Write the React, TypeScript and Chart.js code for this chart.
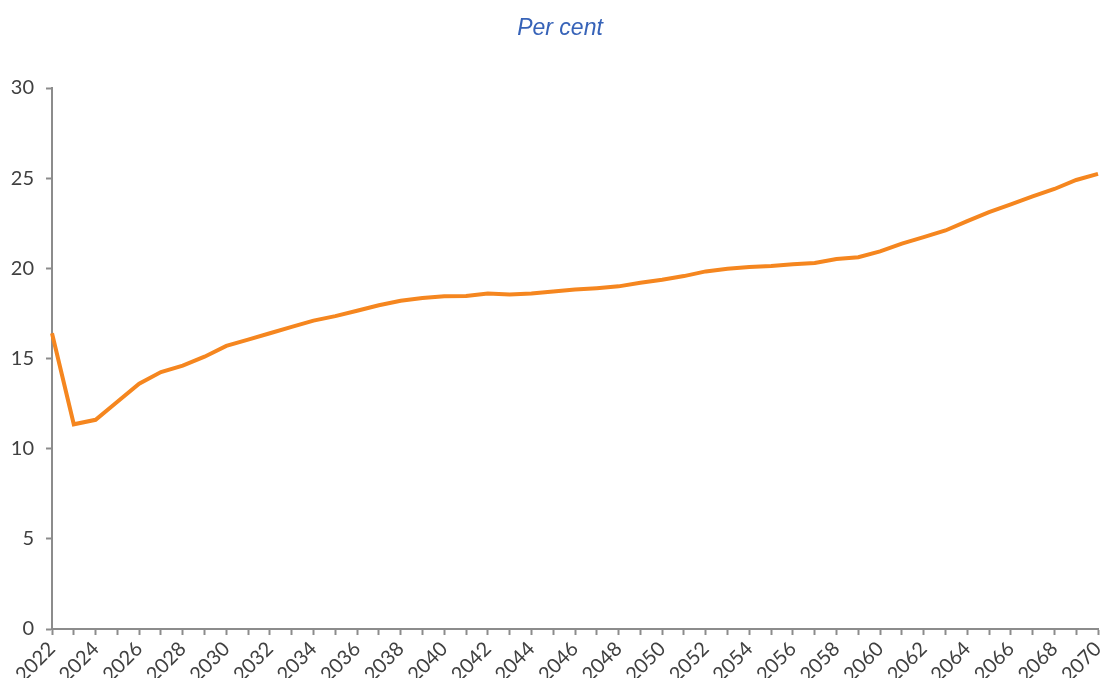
import React, { useEffect, useRef } from "react";
import { Chart, registerables } from "chart.js";

Chart.register(...registerables);

const years: string[] = [];
for (let y = 2022; y <= 2070; y++) years.push(String(y));

const values: number[] = [
  16.4, 11.35, 11.6, 12.6, 13.6, 14.25, 14.6, 15.1, 15.7, 16.05,
  16.4, 16.75, 17.1, 17.35, 17.65, 17.95, 18.2, 18.35, 18.45, 18.47,
  18.6, 18.55, 18.6, 18.72, 18.82, 18.9, 19.0, 19.2, 19.37, 19.57,
  19.83, 19.98, 20.07, 20.13, 20.22, 20.3, 20.52, 20.62, 20.94, 21.37,
  21.73, 22.1, 22.62, 23.12, 23.55, 23.99, 24.4, 24.9, 25.24,
];

const titleText = "Per cent";
const yMin = 0;
const yMax = 30;
const yStep = 5;

const AXIS = "#8c8c8c";
const TEXT = "#404040";
const LINE = "#f5861f";

const titlePlugin = {
  id: "customTitle",
  afterDraw(chart: any) {
    const ctx = chart.ctx;
    ctx.save();
    ctx.font = "italic 23px 'Liberation Sans', Arial, sans-serif";
    ctx.fillStyle = "#3763b8";
    ctx.textAlign = "center";
    ctx.textBaseline = "alphabetic";
    ctx.fillText(titleText, 560, 35);
    ctx.restore();
  },
};

export default function App() {
  const ref = useRef<HTMLCanvasElement | null>(null);
  useEffect(() => {
    if (!ref.current) return;
    const chart = new Chart(ref.current, {
      type: "line",
      data: {
        labels: years,
        datasets: [
          {
            data: values,
            borderColor: LINE,
            borderWidth: 4,
            pointRadius: 0,
            tension: 0,
            fill: false,
          },
        ],
      },
      options: {
        responsive: false,
        animation: false,
        layout: { padding: { top: 88, left: 0, right: 4, bottom: 0 } },
        plugins: {
          legend: { display: false },
          tooltip: { enabled: false },
          title: { display: false },
        },
        scales: {
          x: {
            type: "category",
            offset: false,
            afterFit(scale: any) {
              scale.height = 49;
              scale.paddingRight = 0;
              scale.paddingLeft = 0;
            },
            grid: {
              display: true,
              drawOnChartArea: false,
              drawTicks: true,
              tickLength: 6,
              tickWidth: 2,
              tickColor: AXIS,
              color: AXIS,
            },
            border: { display: true, color: AXIS, width: 2 },
            ticks: {
              autoSkip: false,
              maxRotation: 45,
              minRotation: 45,
              padding: 2,
              color: TEXT,
              font: { family: "Lato, 'Noto Sans', sans-serif", size: 20 },
              callback(_v: any, i: number) {
                return i % 2 === 0 ? years[i] : "";
              },
            },
          },
          y: {
            min: yMin,
            max: yMax,
            afterFit(scale: any) {
              scale.width = 52;
            },
            grid: {
              display: true,
              drawOnChartArea: false,
              drawTicks: true,
              tickLength: 6,
              tickWidth: 2,
              tickColor: AXIS,
              color: AXIS,
            },
            border: { display: true, color: AXIS, width: 2 },
            ticks: {
              stepSize: yStep,
              padding: 12,
              color: TEXT,
              font: { family: "Lato, 'Noto Sans', sans-serif", size: 20 },
            },
          },
        },
      },
      plugins: [titlePlugin],
    });
    return () => chart.destroy();
  }, []);
  return (
    <div style={{ position: "absolute", left: 0, top: 0, width: 1102, height: 678, background: "#fff" }}>
      <canvas ref={ref} width={1102} height={678} />
    </div>
  );
}
